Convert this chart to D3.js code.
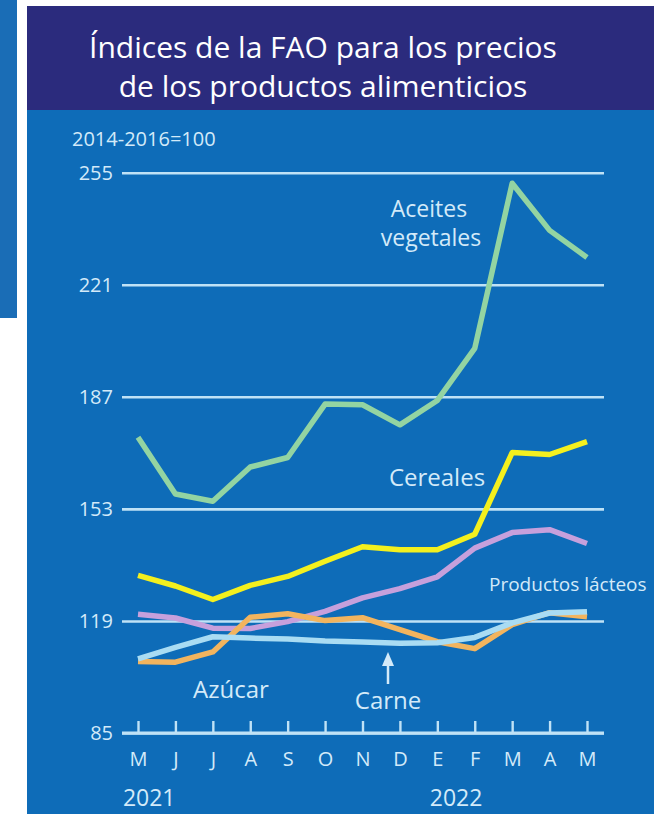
<!DOCTYPE html>
<html>
<head>
<meta charset="utf-8">
<script src="https://cdn.jsdelivr.net/npm/d3@7"></script>
<style>
  body { margin: 0; background: #ffffff; }
  svg { display: block; font-family: "Open Sans", sans-serif; }
</style>
</head>
<body>
<div id="chart"></div>
<script>
/* Data (FAO indices, 2014-2016 = 100), May 2021 .. May 2022 */
const months = ["M", "J", "J", "A", "S", "O", "N", "D", "E", "F", "M", "A", "M"];
const years = [{ label: "2021", at: 0.3 }, { label: "2022", at: 8.5 }];
const yTicks = [85, 119, 153, 187, 221, 255];

const aceites = [174.7, 157.5, 155.3, 165.7, 168.6, 184.8, 184.6, 178.5, 185.9, 201.7, 251.8, 237.5, 229.3];
const cereales = [132.8, 129.6, 125.5, 129.8, 132.5, 137.1, 141.5, 140.6, 140.6, 145.3, 170.1, 169.5, 173.4];
const lacteos = [121.0, 119.9, 116.8, 116.7, 118.8, 121.9, 126.0, 128.8, 132.4, 141.1, 145.8, 146.7, 142.5];
const azucar = [106.7, 106.5, 109.6, 120.1, 121.2, 119.1, 120.0, 116.4, 112.7, 110.6, 117.9, 121.5, 120.3];
const carne = [107.5, 111.0, 114.2, 113.8, 113.5, 112.9, 112.6, 112.2, 112.4, 114.0, 118.4, 121.4, 121.8];

const series = [
    { name: "lacteos", values: lacteos, color: "#c6a0dc" },
    { name: "azucar", values: azucar, color: "#f2b45e" },
    { name: "carne", values: carne, color: "#a9dcf3" },
    { name: "cereales", values: cereales, color: "#f4f01e" },
    { name: "aceites", values: aceites, color: "#93d4a2" }
];

/* Sizes */
const W = 654, H = 814;
const textColor = "#d3eaf9";
const gridColor = "#bfe2f6";

const svg = d3.select("#chart").append("svg")
    .attr("width", W)
    .attr("height", H);

/* Left strip and panel backgrounds */
svg.append("rect").attr("x", 0).attr("y", 0).attr("width", 17).attr("height", 318).attr("fill", "#1a6db6");
svg.append("rect").attr("x", 27).attr("y", 6).attr("width", W - 27).attr("height", H - 6).attr("fill", "#0e6cb8");
svg.append("rect").attr("x", 27).attr("y", 6).attr("width", W - 27).attr("height", 104).attr("fill", "#2b2b7d");

/* Title */
svg.append("text")
    .attr("x", 323).attr("y", 58)
    .attr("text-anchor", "middle")
    .attr("fill", "#ffffff")
    .style("font-size", "30px")
    .text("Índices de la FAO para los precios");
svg.append("text")
    .attr("x", 323).attr("y", 97)
    .attr("text-anchor", "middle")
    .attr("fill", "#ffffff")
    .style("font-size", "30px")
    .text("de los productos alimenticios");

/* Scales */
let x = d3.scalePoint()
    .domain(d3.range(months.length))
    .range([138, 587]);

let y = d3.scaleLinear()
    .domain([85, 255])
    .range([733, 172.7]);

const left = 122, right = 604;

/* Gridlines + y labels */
const yAxis = svg.append("g")
    .attr("transform", "translate(" + left + ",0)")
    .call(d3.axisLeft(y).tickValues(yTicks).tickSize(-(right - left)).tickPadding(9).tickFormat(d3.format("d")));
yAxis.select(".domain").remove();
yAxis.selectAll("line")
    .attr("stroke", gridColor)
    .attr("stroke-width", 2.6);
yAxis.selectAll("text")
    .attr("fill", textColor)
    .style("font-size", "20px")
    .style("font-family", "Open Sans");

/* x axis: ticks pointing up */
const xAxis = svg.append("g")
    .attr("transform", "translate(0," + y(85) + ")")
    .call(d3.axisBottom(x).tickSize(-12).tickPadding(19).tickFormat(function (d) { return months[d]; }));
xAxis.select(".domain")
    .attr("d", "M" + left + ",0H" + right)
    .attr("stroke", gridColor)
    .attr("stroke-width", 3);
xAxis.selectAll("line")
    .attr("stroke", gridColor)
    .attr("stroke-width", 2.4);
xAxis.selectAll("text")
    .attr("fill", textColor)
    .style("font-size", "20px")
    .style("font-family", "Open Sans");

/* Years */
svg.selectAll("text.year")
    .data(years)
    .enter().append("text")
    .attr("class", "year")
    .attr("x", function (d) { return x(0) + d.at * x.step(); })
    .attr("y", 806)
    .attr("text-anchor", "middle")
    .attr("fill", textColor)
    .style("font-size", "23px")
    .text(function (d) { return d.label; });

/* Unit note */
svg.append("text")
    .attr("x", 72).attr("y", 146)
    .attr("fill", textColor)
    .style("font-size", "20px")
    .text("2014-2016=100");

/* Lines */
const line = d3.line()
    .x(function (d, i) { return x(i); })
    .y(function (d) { return y(d); });

svg.selectAll("path.serie")
    .data(series)
    .enter().append("path")
    .attr("class", "serie")
    .attr("fill", "none")
    .attr("stroke", function (d) { return d.color; })
    .attr("stroke-width", 5.5)
    .attr("stroke-linejoin", "round")
    .attr("d", function (d) { return line(d.values); });

/* Series labels */
function label(txt, px, py, size) {
    svg.append("text")
        .attr("x", px).attr("y", py)
        .attr("fill", textColor)
        .attr("text-anchor", "middle")
        .style("font-size", size + "px")
        .text(txt);
}
label("Aceites", 429, 217, 23);
label("vegetales", 431, 246, 23);
label("Cereales", 437, 486, 24);
label("Azúcar", 231, 698, 24);
label("Carne", 388, 709, 24);
svg.append("text")
    .attr("x", 489).attr("y", 591)
    .attr("fill", textColor)
    .style("font-size", "19px")
    .text("Productos lácteos");

/* Arrow to the meat line */
svg.append("line")
    .attr("x1", 388).attr("x2", 388)
    .attr("y1", 664).attr("y2", 684)
    .attr("stroke", textColor)
    .attr("stroke-width", 2.5);
svg.append("path")
    .attr("d", "M382,666 L388,652 L394,666 Z")
    .attr("fill", textColor);
</script>
</body>
</html>
